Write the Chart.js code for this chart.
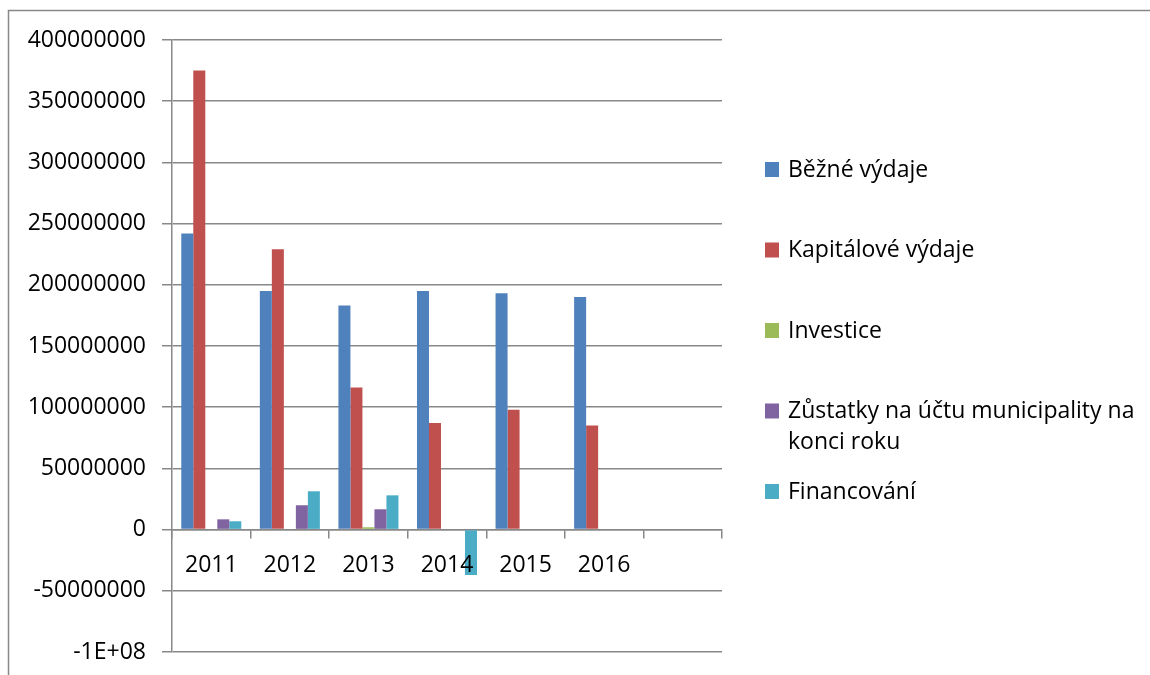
<!DOCTYPE html>
<html>
<head>
<meta charset="utf-8">
<script src="https://cdn.jsdelivr.net/npm/chart.js@4/dist/chart.umd.min.js"></script>
<style>
  html, body { margin: 0; padding: 0; background: #fff; }
  #wrap { width: 1150px; height: 675px; position: relative; }
</style>
</head>
<body>
<div id="wrap"><canvas id="c" width="1150" height="675"></canvas></div>
<script>
// Years on the category axis (last slot left empty)
const years = ['2011', '2012', '2013', '2014', '2015', '2016', ''];

// Series names
const seriesNames = [
  'Běžné výdaje',
  'Kapitálové výdaje',
  'Investice',
  'Zůstatky na účtu municipality na konci roku',
  'Financování'
];

// Values per year (Kč)
const bezneVydaje      = [242000000, 195000000, 183000000, 195000000, 193000000, 190000000, null];
const kapitaloveVydaje = [375000000, 229000000, 116000000, 87000000, 98000000, 85000000, null];
const investice        = [0, 0, 1900000, 0, null, null, null];
const zustatky         = [8400000, 19900000, 16600000, 0, null, null, null];
const financovani      = [6800000, 31300000, 28000000, -37100000, null, null, null];

// Value axis labels, bottom to top
const yTickLabels = ['-1E+08', '-50000000', '0', '50000000', '100000000', '150000000',
  '200000000', '250000000', '300000000', '350000000', '400000000'];

const seriesColors = ['#4F81BD', '#C0504D', '#9BBB59', '#8064A2', '#4BACC6'];
const seriesData = [bezneVydaje, kapitaloveVydaje, investice, zustatky, financovani];

const FONT = '"Open Sans", "Noto Sans", sans-serif';
const FONT_SIZE = 23;
const GRID = '#888888';

// Frame around the whole chart
const framePlugin = {
  id: 'frame',
  beforeDraw(chart) {
    const ctx = chart.ctx;
    ctx.save();
    ctx.fillStyle = '#fff';
    ctx.fillRect(0, 0, chart.width, chart.height);
    ctx.strokeStyle = GRID;
    ctx.lineWidth = 1.5;
    ctx.beginPath();
    ctx.moveTo(8.5, chart.height + 5);
    ctx.lineTo(8.5, 10.5);
    ctx.lineTo(chart.width + 5, 10.5);
    ctx.stroke();
    ctx.restore();
  }
};

// Legend on the right with wrapped entries
const sideLegend = {
  id: 'sideLegend',
  afterDraw(chart) {
    const ctx = chart.ctx;
    const x0 = 765, textX = 788, maxW = 358;
    const firstY = 169, step = 80.5, lineH = 31;
    ctx.save();
    ctx.font = FONT_SIZE + 'px ' + FONT;
    ctx.textBaseline = 'middle';
    ctx.textAlign = 'left';
    chart.data.datasets.forEach((ds, i) => {
      const cy = firstY + i * step;
      ctx.fillStyle = ds.backgroundColor;
      ctx.fillRect(x0, cy - 7, 14, 15);
      // wrap by measured width
      const words = ds.label.split(' ');
      const lines = [];
      let cur = '';
      words.forEach(w => {
        const test = cur ? cur + ' ' + w : w;
        if (ctx.measureText(test).width > maxW && cur) { lines.push(cur); cur = w; }
        else cur = test;
      });
      if (cur) lines.push(cur);
      ctx.fillStyle = '#000';
      lines.forEach((ln, k) => ctx.fillText(ln, textX, cy + 1 + k * lineH));
    });
    ctx.restore();
  }
};

function noScalePadding(scale) {
  scale.paddingTop = 0;
  scale.paddingBottom = 0;
}

new Chart(document.getElementById('c'), {
  type: 'bar',
  data: {
    labels: years,
    datasets: seriesNames.map((name, i) => ({
      label: name,
      data: seriesData[i],
      backgroundColor: seriesColors[i],
      borderWidth: 0,
      categoryPercentage: 0.764,
      barPercentage: 1.0
    }))
  },
  options: {
    responsive: false,
    animation: false,
    events: [],
    layout: { padding: { left: 0, top: 40, right: 428, bottom: 23 } },
    plugins: {
      legend: { display: false },
      tooltip: { enabled: false }
    },
    scales: {
      x: {
        position: { y: 0 },
        grid: {
          display: true,
          drawOnChartArea: false,
          drawTicks: true,
          tickLength: 8,
          color: GRID,
          lineWidth: 1.5,
          offset: true
        },
        border: { display: true, color: GRID, width: 1.5 },
        ticks: {
          z: 1,
          color: '#000',
          padding: 14,
          maxRotation: 0,
          font: { family: FONT, size: FONT_SIZE }
        },
        afterFit(scale) { scale.height = 0; noScalePadding(scale); }
      },
      y: {
        min: -100000000,
        max: 400000000,
        grid: {
          color: GRID,
          lineWidth: 1.5,
          drawTicks: true,
          tickLength: 10
        },
        border: { display: true, color: GRID, width: 1.5 },
        ticks: {
          stepSize: 50000000,
          color: '#000',
          padding: 16,
          font: { family: FONT, size: FONT_SIZE },
          callback: (v, i) => yTickLabels[i]
        },
        afterFit(scale) { scale.width = 172; noScalePadding(scale); }
      }
    }
  },
  plugins: [framePlugin, sideLegend]
});
</script>
</body>
</html>
